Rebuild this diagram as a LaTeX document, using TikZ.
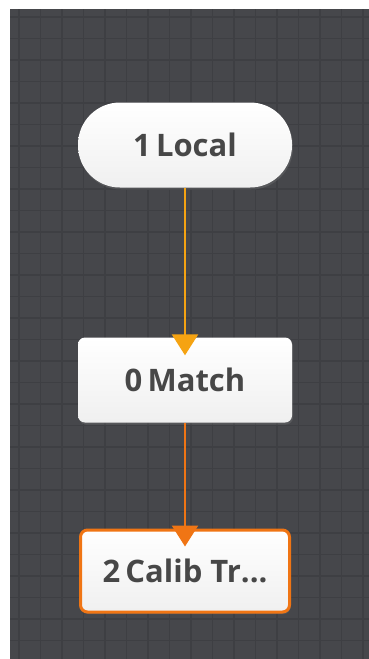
\documentclass[tikz,border=0pt]{standalone}
\usepackage{fontspec}
\setmainfont{Open Sans}
\usepackage{tikz}
\usetikzlibrary{arrows.meta, positioning, shadows}
\definecolor{canvasbg}{HTML}{46474B}
\definecolor{canvasgrid}{HTML}{3E3F43}
\definecolor{flowamber}{HTML}{F5A312}
\definecolor{flowtangerine}{HTML}{F07514}
\definecolor{labelgray}{HTML}{474747}
\tikzstyle{blocknode} = [
  rectangle, draw=none, top color=white, bottom color=gray!12,
  minimum width=214pt, minimum height=85pt, text centered,
  font=\fontsize{31}{36}\selectfont\bfseries, text=labelgray,
  rounded corners=7pt, drop shadow={opacity=0.3, shadow xshift=1pt, shadow yshift=-2pt}
]
\tikzstyle{startnode} = [blocknode, rounded corners=42pt]
\tikzstyle{flowarrow} = [-{Triangle[length=21pt, width=26pt]}, line width=2.6pt, shorten >=-18pt]

\begin{document}
\begin{tikzpicture}[x=1pt, y=-1pt]

  \useasboundingbox (0,0) rectangle (369,659);
  % canvas
  \fill[white] (0,0) rectangle (369,659);
  \fill[canvasbg] (10,9) rectangle (369,659);
  \foreach \gx in {19,40.5,...,369} {
    \draw[canvasgrid, line width=1.6pt] (\gx,9) -- (\gx,659);
  }
  \foreach \gy in {17,38.5,...,659} {
    \draw[canvasgrid, line width=1.6pt] (10,\gy) -- (369,\gy);
  }

  \node[startnode] (local) at (185, 145) {1\,Local};
  \node[blocknode] (match) at (185, 380) {0\,Match};
  \node[blocknode, draw=flowtangerine, line width=3pt, minimum width=209pt, minimum height=82pt] (calib) at (185, 571) {2\,Calib Tr...};

  \draw[flowarrow, flowamber] (local) -- (match);
  \draw[flowarrow, flowtangerine] (match) -- (calib);

\end{tikzpicture}
\end{document}
